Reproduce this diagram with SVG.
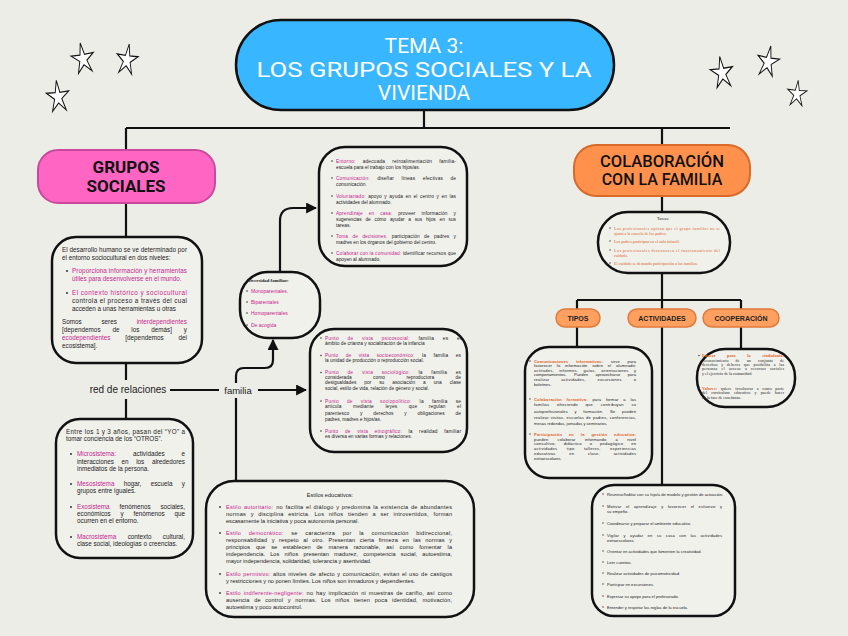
<svg xmlns="http://www.w3.org/2000/svg" width="848" height="636" viewBox="0 0 848 636">
<defs>
<style>
.bx{fill:#F1F1EC;stroke:#111;stroke-width:2.5}
.ln{fill:none;stroke:#111;stroke-width:2.2}
.s{font-family:"Liberation Sans",Arial,sans-serif;fill:#222}
.sr{font-family:"Liberation Serif","Times New Roman",serif;fill:#222}
.pk{fill:#C5258F}
.or{fill:#E0621E}
.f1{font-size:6.3px}
.f2{font-size:4.8px}
.f3{font-size:4.1px}
.dot{fill:#333}
.star{fill:#fff;stroke:#111;stroke-width:1.3;stroke-linejoin:miter}
</style>
<marker id="ah" viewBox="0 0 10 10" refX="9" refY="5" markerWidth="5" markerHeight="5" orient="auto">
<path d="M0,0 L10,5 L0,10 z" fill="#111"/>
</marker>
<polygon id="st" class="star" points="0,-17 3.2,-4.6 15.5,-5 5,2 9.6,14 0,6.2 -9.6,14 -5,2 -15.5,-5 -3.2,-4.6"/>
</defs>
<rect width="848" height="636" fill="#EDEDE8"/>

<g id="stars">
<use href="#st" transform="translate(83,59) rotate(-10) scale(0.72,0.95)"/>
<use href="#st" transform="translate(127,60) rotate(8) scale(0.68,0.95)"/>
<use href="#st" transform="translate(58,97) rotate(-6) scale(0.72,0.98)"/>
<use href="#st" transform="translate(722,73) rotate(-8) scale(0.72,0.98)"/>
<use href="#st" transform="translate(768,62) rotate(10) scale(0.7,0.95)"/>
<use href="#st" transform="translate(797,94) rotate(5) scale(0.62,0.8)"/>
</g>

<g id="connectors">
<path class="ln" d="M424,110 V128 M126,128 H730 M126,128 V150 M662,128 V145"/>
<path class="ln" d="M126,203 V237 M126,363 V380 M126,399 V419"/>
<path class="ln" d="M170,390 H219"/>
<path class="ln" d="M258,390 H306" marker-end="url(#ah)"/>
<path class="ln" d="M236,383 V376 Q236,368 244,368 H265 Q273,368 273,360 V340" marker-end="url(#ah)"/>
<path class="ln" d="M236,398 V481"/>
<path class="ln" d="M280,272 V221 Q280,208 293,208 H316" marker-end="url(#ah)"/>
<path class="ln" d="M662,196 V212 M662,273 V300 M577,300 H741 M577,300 V309 M662,300 V309 M741,300 V309"/>
<path class="ln" d="M577,327 V347 M741,327 V349 M662,327 V485"/>
</g>

<g id="title">
<rect x="236" y="20" width="378" height="90" rx="45" fill="#38B6FF" stroke="#111" stroke-width="2.5"/>
<g font-family="Roboto,'Liberation Sans',Arial,sans-serif" font-size="21" fill="#fff" text-anchor="middle">
<text x="424" y="53">TEMA 3:</text>
<text x="424" y="77" textLength="335" lengthAdjust="spacingAndGlyphs">LOS GRUPOS SOCIALES Y LA</text>
<text x="424" y="100">VIVIENDA</text>
</g>
</g>

<g id="grupos-sociales">
<rect x="38" y="150" width="177" height="53" rx="20" fill="#FF66C4" stroke="#C94A9D" stroke-width="2"/>
<g font-family="Roboto,'Liberation Sans',Arial,sans-serif" font-size="17" font-weight="bold" fill="#111" text-anchor="middle">
<text x="126" y="173">GRUPOS</text>
<text x="126" y="192">SOCIALES</text>
</g>
</g>

<g id="colaboracion">
<rect x="574" y="145" width="176" height="51" rx="22" fill="#FF914D" stroke="#D86A2A" stroke-width="2"/>
<g font-family="Roboto,'Liberation Sans',Arial,sans-serif" font-size="16" font-weight="500" fill="#111" text-anchor="middle">
<text x="662" y="167" textLength="124" lengthAdjust="spacingAndGlyphs">COLABORACIÓN</text>
<text x="662" y="185">CON LA FAMILIA</text>
</g>
</g>

<g id="desarrollo">
<rect class="bx" x="52" y="237" width="150" height="126" rx="24"/>
<g class="s f1">
<text x="62" y="252" textLength="125">El desarrollo humano se ve determinado por</text>
<text x="62" y="260">el entorno sociocultural en dos niveles:</text>
<circle class="dot" cx="67" cy="271" r="1"/>
<text x="72" y="273" class="pk" textLength="115">Proporciona información y herramientas</text>
<text x="72" y="281" class="pk">útiles para desenvolverse en el mundo.</text>
<circle class="dot" cx="67" cy="293" r="1"/>
<text x="72" y="295" class="pk" textLength="115">El contexto histórico y sociocultural</text>
<text x="72" y="303" textLength="115">controla el proceso a través del cual</text>
<text x="72" y="311">acceden a unas herramientas u otras</text>
<text x="62" y="324" word-spacing="18" textLength="125">Somos seres <tspan class="pk">interdependientes</tspan></text>
<text x="62" y="332" word-spacing="10" textLength="125">[dependemos de los demás] y</text>
<text x="62" y="340" word-spacing="13" textLength="125"><tspan class="pk">ecodependientes</tspan> [dependemos del</text>
<text x="62" y="348">ecosistema].</text>
</g>
</g>

<g id="red-relaciones">
<text x="128" y="393" class="s" font-size="10" text-anchor="middle">red de relaciones</text>
</g>
<g id="familia">
<text x="238" y="394" class="s" font-size="9.5" text-anchor="middle">familia</text>
</g>

<g id="sistemas">
<rect class="bx" x="56" y="419" width="137" height="139" rx="24"/>
<g class="s f1">
<text x="66" y="434" textLength="119">Entre los 1 y 3 años, pasan del “YO” a</text>
<text x="66" y="441">tomar conciencia de los “OTROS”.</text>
<circle class="dot" cx="71" cy="454" r="1"/>
<text x="77" y="456" word-spacing="15" textLength="108"><tspan class="pk">Microsistema:</tspan> actividades e</text>
<text x="77" y="464" word-spacing="6" textLength="108">interacciones en los alrededores</text>
<text x="77" y="471">inmediatos de la persona.</text>
<circle class="dot" cx="71" cy="484" r="1"/>
<text x="77" y="486" word-spacing="7.5" textLength="108"><tspan class="pk">Mesosistema</tspan> hogar, escuela y</text>
<text x="77" y="493">grupos entre iguales.</text>
<circle class="dot" cx="71" cy="507" r="1"/>
<text x="77" y="509" word-spacing="8" textLength="108"><tspan class="pk">Exosistema</tspan> fenómenos sociales,</text>
<text x="77" y="516" word-spacing="8" textLength="108">económicos y fenómenos que</text>
<text x="77" y="523">ocurren en el entorno.</text>
<circle class="dot" cx="71" cy="537" r="1"/>
<text x="77" y="539" word-spacing="9.5" textLength="108"><tspan class="pk">Macrosistema</tspan> contexto cultural,</text>
<text x="77" y="546">clase social, ideologías o creencias.</text>
</g>
</g>

<g id="entorno">
<rect class="bx" x="319" y="147" width="148" height="119" rx="26"/>
<g class="s f2">
<circle class="dot" cx="332" cy="161" r="0.8"/>
<text x="336" y="162.5" word-spacing="5.5" textLength="120"><tspan class="pk">Entorno:</tspan> adecuada retroalimentación familia-</text>
<text x="336" y="168.5">escuela para el trabajo con los hijos/as.</text>
<circle class="dot" cx="332" cy="178" r="0.8"/>
<text x="336" y="179.5" word-spacing="6" textLength="120"><tspan class="pk">Comunicación:</tspan> diseñar líneas efectivas de</text>
<text x="336" y="185.5">comunicación.</text>
<circle class="dot" cx="332" cy="196" r="0.8"/>
<text x="336" y="197.5" word-spacing="1" textLength="120"><tspan class="pk">Voluntariado:</tspan> apoyo y ayuda en el centro y en las</text>
<text x="336" y="203.5">actividades del alumnado.</text>
<circle class="dot" cx="332" cy="213" r="0.8"/>
<text x="336" y="214.5" word-spacing="4.5" textLength="120"><tspan class="pk">Aprendizaje en casa:</tspan> proveer información y</text>
<text x="336" y="220.5" word-spacing="2.5" textLength="120">sugerencias de cómo ayudar a sus hijos en sus</text>
<text x="336" y="226.5">tareas.</text>
<circle class="dot" cx="332" cy="236" r="0.8"/>
<text x="336" y="237.5" word-spacing="3" textLength="120"><tspan class="pk">Toma de decisiones:</tspan> participación de padres y</text>
<text x="336" y="243.5">madres en los órganos del gobierno del centro.</text>
<circle class="dot" cx="332" cy="253" r="0.8"/>
<text x="336" y="254.5" textLength="120"><tspan class="pk">Colaborar con la comunidad:</tspan> identificar recursos que</text>
<text x="336" y="261">apoyen al alumnado.</text>
</g>
</g>

<g id="diversidad">
<rect class="bx" x="240" y="272" width="80" height="66" rx="28"/>
<text x="247" y="282" class="sr" font-size="4.8" font-weight="bold">Diversidad familiar:</text>
<g class="s pk" font-size="5">
<circle class="dot" cx="247" cy="291" r="0.8"/><text x="251" y="293">Monoparentales.</text>
<circle class="dot" cx="247" cy="302" r="0.8"/><text x="251" y="304">Biparentales</text>
<circle class="dot" cx="247" cy="313" r="0.8"/><text x="251" y="315">Homoparentales</text>
<circle class="dot" cx="247" cy="325" r="0.8"/><text x="251" y="327">De acogida</text>
</g>
</g>

<g id="puntos-vista">
<rect class="bx" x="310" y="329" width="157" height="123" rx="24"/>
<g class="s f2">
<circle class="dot" cx="321" cy="338" r="0.8"/>
<text x="325" y="339.5" word-spacing="7" textLength="136"><tspan class="pk">Punto de vista psicosocial:</tspan> familia es el</text>
<text x="325" y="345">ámbito de crianza y socialización de la infancia</text>
<circle class="dot" cx="321" cy="355.5" r="0.8"/>
<text x="325" y="357.2" word-spacing="6" textLength="136"><tspan class="pk">Punto de vista socioeconómico:</tspan> la familia es</text>
<text x="325" y="362.4">la unidad de producción o reproducción social.</text>
<circle class="dot" cx="321" cy="372.5" r="0.8"/>
<text x="325" y="374.2" word-spacing="7" textLength="136"><tspan class="pk">Punto de vista sociológico:</tspan> la familia es</text>
<text x="325" y="379.2" word-spacing="20" textLength="136">considerada como reproductora de</text>
<text x="325" y="384.4" word-spacing="6.5" textLength="136">desigualdades por su asociación a una clase</text>
<text x="325" y="390">social, estilo de vida, relación de género y social.</text>
<circle class="dot" cx="321" cy="401" r="0.8"/>
<text x="325" y="402.7" word-spacing="6.5" textLength="136"><tspan class="pk">Punto de vista sociopolítico:</tspan> la familia se</text>
<text x="325" y="408.4" word-spacing="10" textLength="136">articula mediante leyes que regulan el</text>
<text x="325" y="414.6" word-spacing="9.5" textLength="136">parentesco y derechos y obligaciones de</text>
<text x="325" y="420.6">padres, madres e hijos/as.</text>
<circle class="dot" cx="321" cy="431" r="0.8"/>
<text x="325" y="432.7" word-spacing="5" textLength="136"><tspan class="pk">Punto de vista etnográfico:</tspan> la realidad familiar</text>
<text x="325" y="438">es diversa en varias formas y relaciones.</text>
</g>
</g>

<g id="estilos">
<rect class="bx" x="206" y="481" width="268" height="136" rx="28"/>
<g class="s" font-size="5.6">
<text x="330" y="497" text-anchor="middle">Estilos educativos:</text>
<circle class="dot" cx="220" cy="507" r="0.9"/>
<text x="226" y="509" word-spacing="0.8" textLength="226"><tspan class="pk">Estilo autoritario:</tspan> no facilita el diálogo y predomina la existencia de abundantes</text>
<text x="226" y="516" word-spacing="2.8" textLength="226">normas y disciplina estricta. Los niños tienden a ser introvertidos, forman</text>
<text x="226" y="523">escasamente la iniciativa y poca autonomía personal.</text>
<circle class="dot" cx="220" cy="533" r="0.9"/>
<text x="226" y="535" word-spacing="5.8" textLength="226"><tspan class="pk">Estilo democrático:</tspan> se caracteriza por la comunicación bidireccional,</text>
<text x="226" y="542" word-spacing="2.7" textLength="226">responsabilidad y respeto al otro. Presentan cierta firmeza en las normas y</text>
<text x="226" y="549" word-spacing="4.2" textLength="226">principios que se establecen de manera razonable, así como fomentar la</text>
<text x="226" y="556" word-spacing="3.5" textLength="226">independencia. Los niños presentan madurez, competencia social, autoestima,</text>
<text x="226" y="563">mayor independencia, solidaridad, tolerancia y asertividad.</text>
<circle class="dot" cx="220" cy="574" r="0.9"/>
<text x="226" y="576" word-spacing="0.7" textLength="226"><tspan class="pk">Estilo permisivo:</tspan> altos niveles de afecto y comunicación, evitan el uso de castigos</text>
<text x="226" y="583">y restricciones y no ponen límites. Los niños son inmaduros y dependientes.</text>
<circle class="dot" cx="220" cy="593" r="0.9"/>
<text x="226" y="595" word-spacing="1.1" textLength="226"><tspan class="pk">Estilo indiferente-negligente:</tspan> no hay implicación ni muestras de cariño, así como</text>
<text x="226" y="602" word-spacing="3" textLength="226">ausencia de control y normas. Los niños tienen poca identidad, motivación,</text>
<text x="226" y="609">autoestima y poco autocontrol.</text>
</g>
</g>

<g id="tareas">
<rect class="bx" x="598" y="212" width="132" height="61" rx="30"/>
<text x="663" y="220" class="sr f3" text-anchor="middle">Tareas:</text>
<g class="sr f3 or">
<circle class="dot" cx="610" cy="228" r="0.7"/>
<text x="614" y="229.5" textLength="106">Los profesionales opinan que el grupo familiar no se</text>
<text x="614" y="234.5">ajusta a la escuela de los padres.</text>
<circle class="dot" cx="610" cy="241" r="0.7"/>
<text x="614" y="242.5">Los padres participan en el aula infantil.</text>
<circle class="dot" cx="610" cy="250" r="0.7"/>
<text x="614" y="251.5" textLength="106">Los profesionales desconocen el funcionamiento del</text>
<text x="614" y="256.5">cuidado.</text>
<circle class="dot" cx="610" cy="263" r="0.7"/>
<text x="614" y="264.5">El cuidado se demanda participación a las familias.</text>
</g>
</g>

<g id="tipos">
<rect x="556" y="309" width="44" height="18" rx="9" fill="#FFA060" stroke="#E07A3A" stroke-width="1.5"/>
<text x="578" y="321" class="s" font-size="7" font-weight="bold" text-anchor="middle">TIPOS</text>
</g>
<g id="actividades">
<rect x="628" y="309" width="68" height="18" rx="9" fill="#FFA060" stroke="#E07A3A" stroke-width="1.5"/>
<text x="662" y="321" class="s" font-size="7" font-weight="bold" text-anchor="middle">ACTIVIDADES</text>
</g>
<g id="cooperacion">
<rect x="703" y="309" width="76" height="18" rx="9" fill="#FFA060" stroke="#E07A3A" stroke-width="1.5"/>
<text x="741" y="321" class="s" font-size="7" font-weight="bold" text-anchor="middle">COOPERACIÓN</text>
</g>

<g id="tipos-detalle">
<rect class="bx" x="525" y="347" width="127" height="131" rx="24"/>
<g class="s f3">
<circle class="dot" cx="530" cy="361" r="0.7"/>
<text x="534" y="362.5" word-spacing="6.5" textLength="102"><tspan class="or" font-weight="bold">Comunicaciones informativas:</tspan> sirve para</text>
<text x="534" y="367.3" word-spacing="3.5" textLength="102">favorecer la información sobre el alumnado:</text>
<text x="534" y="371.8" word-spacing="4" textLength="102">actitudes, informes, guías, orientaciones y</text>
<text x="534" y="376.2" word-spacing="6.5" textLength="102">comportamientos. Pueden aprovecharse para</text>
<text x="534" y="381" word-spacing="10.5" textLength="102">realizar actividades, excursiones o</text>
<text x="534" y="386">boletines.</text>
<circle class="dot" cx="530" cy="399" r="0.7"/>
<text x="534" y="400.5" word-spacing="3.5" textLength="102"><tspan class="or" font-weight="bold">Colaboración formativa:</tspan> para formar a las</text>
<text x="534" y="405.8" word-spacing="6.5" textLength="102">familias ofreciendo que contribuyan su</text>
<text x="534" y="413.3" word-spacing="5.5" textLength="102">autoprofesionales y formación. Se pueden</text>
<text x="534" y="418.5" word-spacing="0.8" textLength="102">realizar visitas, escuelas de padres, conferencias,</text>
<text x="534" y="424.6">mesas redondas, jornadas y seminarios.</text>
<circle class="dot" cx="530" cy="434" r="0.7"/>
<text x="534" y="435.5" word-spacing="5.5" textLength="102"><tspan class="or" font-weight="bold">Participación en la gestión educativa:</tspan></text>
<text x="534" y="440.5" word-spacing="8" textLength="102">pueden colaborar informando a nivel</text>
<text x="534" y="445.3" word-spacing="6.5" textLength="102">consultivo, didáctico o pedagógico en</text>
<text x="534" y="449.8" word-spacing="8" textLength="102">actividades tipo talleres, experiencias</text>
<text x="534" y="454.6" word-spacing="12.5" textLength="102">educativas en clase, actividades</text>
<text x="534" y="459.5">extraescolares.</text>
</g>
</g>

<g id="cooperacion-detalle">
<rect class="bx" x="697" y="349" width="98" height="58" rx="28"/>
<g class="sr f3">
<circle class="dot" cx="699" cy="355.5" r="0.7"/>
<text x="702" y="357" word-spacing="10.5" textLength="82"><tspan class="or" font-weight="bold">Educar para la ciudadanía:</tspan></text>
<text x="702" y="361.5" word-spacing="6" textLength="82">reconocimiento de un conjunto de</text>
<text x="702" y="365.8" word-spacing="2.3" textLength="82">derechos y deberes que posibilita a las</text>
<text x="702" y="370.2" word-spacing="3" textLength="82">personas el acceso a recursos sociales</text>
<text x="702" y="374.6">y el ejercicio de la comunidad.</text>
<circle class="dot" cx="699" cy="388" r="0.7"/>
<text x="702" y="389.5" word-spacing="2.4" textLength="82"><tspan class="or" font-weight="bold">Valores:</tspan> quiere involucrar a como parte</text>
<text x="702" y="394.3" word-spacing="3" textLength="82">del currículum educativo y puede hacer</text>
<text x="702" y="399">en la fase de enseñanza.</text>
</g>
</g>

<g id="actividades-detalle">
<rect class="bx" x="592" y="485" width="143" height="131" rx="22"/>
<g class="s f3">
<circle class="dot" cx="603" cy="494" r="0.7"/><text x="607" y="495.5">Reunirse/hablar con su hijo/a de modelo y gestión de actuación.</text>
<circle class="dot" cx="603" cy="506" r="0.7"/><text x="607" y="507.5" word-spacing="3.2" textLength="115">Motivar el aprendizaje y favorecer el esfuerzo y</text>
<text x="607" y="512.5">su empeño.</text>
<circle class="dot" cx="603" cy="523" r="0.7"/><text x="607" y="524.5">Coordinarse y preparar el ambiente educativo.</text>
<circle class="dot" cx="603" cy="535" r="0.7"/><text x="607" y="536.5" word-spacing="3.2" textLength="115">Vigilar y ayudar en su casa con las actividades</text>
<text x="607" y="541.5">extraescolares.</text>
<circle class="dot" cx="603" cy="551" r="0.7"/><text x="607" y="552.5">Orientar en actividades que fomenten la creatividad.</text>
<circle class="dot" cx="603" cy="562" r="0.7"/><text x="607" y="563.5">Leer cuentos.</text>
<circle class="dot" cx="603" cy="573" r="0.7"/><text x="607" y="574.5">Realizar actividades de psicomotricidad.</text>
<circle class="dot" cx="603" cy="584" r="0.7"/><text x="607" y="585.5">Participar en excursiones.</text>
<circle class="dot" cx="603" cy="596" r="0.7"/><text x="607" y="597.5">Expresar su apoyo para el profesorado.</text>
<circle class="dot" cx="603" cy="607" r="0.7"/><text x="607" y="608.5">Entender y respetar las reglas de la escuela.</text>
</g>
</g>
</svg>
